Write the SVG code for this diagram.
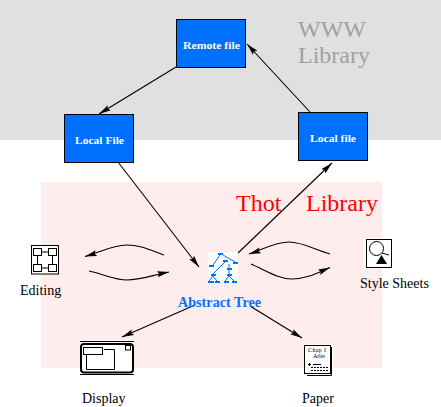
<svg xmlns="http://www.w3.org/2000/svg" width="441" height="407" viewBox="0 0 441 407">
<style>
text{font-family:"Liberation Serif","Times New Roman",serif}
.box{fill:#0070ff;stroke:#000;stroke-width:1}
.bl{fill:#fff;font-size:11px;font-weight:bold;text-anchor:start}
.big{font-size:24px}
.lab{font-size:14px;fill:#000}
.c{fill:none;stroke:#000;stroke-width:1.1;marker-end:url(#a)}
.ic{fill:none;stroke:#000;stroke-width:1}
.tr{stroke:#0070ff;stroke-width:1;fill:none}
.nd{fill:#0070ff}
</style>
<defs>
<marker id="a" markerUnits="userSpaceOnUse" markerWidth="13" markerHeight="8" refX="12" refY="3.500" orient="auto">
<path d="M0 0.500L12 3.500L0 6.500L2 3.500Z" fill="#000"/>
</marker>
</defs>
<rect x="0" y="0" width="441" height="140" fill="#e0e0e0"/>
<rect x="41" y="182" width="341" height="186" fill="#ffecec"/>
<g id="www-library">
<text class="big" x="298" y="37" fill="#a0a0a0">WWW</text>
<text class="big" x="298" y="63" fill="#a0a0a0">Library</text>
</g>
<g id="thot-library">
<text class="big" x="236" y="211" fill="#ff0000">Thot</text>
<text class="big" x="306" y="211" fill="#ff0000">Library</text>
</g>
<g id="connectors">
<path class="c" d="M176 67L99 114"/>
<path class="c" d="M310 112L247 44"/>
<path class="c" d="M118 162L199 267"/>
<path class="c" d="M238 253L332 163"/>
<path class="c" d="M195 305L122 337"/>
<path class="c" d="M250 306L302 338"/>
<path class="c" d="M164 255C150 250 140 245 127 245C113 245 100 252 85 256.500"/>
<path class="c" d="M89 271C103 274 115 280 127 280C140 280 153 275 169 272"/>
<path class="c" d="M330 254C315 250 303 242 289 242C275 242 262 250 249 254"/>
<path class="c" d="M251 264C265 270 278 279 292 279C306 279 317 273 330 267.500"/>
</g>
<g id="remote-file">
<rect class="box" x="176.500" y="19.500" width="69" height="48"/>
<text class="bl" x="183" y="49" textLength="57" lengthAdjust="spacingAndGlyphs">Remote file</text>
</g>
<g id="local-file-left">
<rect class="box" x="64.500" y="114.500" width="69" height="48"/>
<text class="bl" x="75" y="144" textLength="49" lengthAdjust="spacingAndGlyphs">Local File</text>
</g>
<g id="local-file-right">
<rect class="box" x="298.500" y="112.500" width="69" height="48"/>
<text class="bl" x="310" y="142" textLength="46" lengthAdjust="spacingAndGlyphs">Local file</text>
</g>
<g id="editing">
<rect x="31.500" y="245.500" width="27" height="28.500" fill="#fff" stroke="#000"/>
<path class="ic" d="M41.500 252H48.500M41.500 268H48.500M37.500 255.500V264.500M52.500 255.500V264.500"/>
<rect class="ic" x="33.500" y="248.500" width="8" height="7"/>
<rect class="ic" x="48.500" y="248.500" width="8" height="7"/>
<rect class="ic" x="33.500" y="264.500" width="8" height="7"/>
<rect class="ic" x="48.500" y="264.500" width="8" height="7"/>
<text class="lab" x="20" y="295">Editing</text>
</g>
<g id="style-sheets">
<rect x="364" y="238" width="28" height="31" fill="#fff"/>
<rect class="ic" x="366.500" y="239.500" width="25" height="28"/>
<circle class="ic" cx="376.500" cy="248.500" r="7"/>
<path class="ic" d="M382 253L389 255"/>
<path d="M381.500 255L387 264H376Z" fill="#000"/>
<text class="lab" x="360" y="288">Style Sheets</text>
</g>
<g id="abstract-tree">
<rect x="208" y="252" width="30" height="31" fill="#fff"/>
<path class="tr" d="M220 255L213 265M223 255L235 262M225 262L213 274M229 264V268M229 270V274M213 276L209 281M213 276L217 281M229 276L225 281M229 276L234 281"/>
<rect class="nd" x="218" y="253" width="5" height="2"/>
<rect class="nd" x="209" y="265" width="5" height="2"/>
<rect class="nd" x="233" y="262" width="5" height="2"/>
<rect class="nd" x="223" y="260" width="5" height="2"/>
<rect class="nd" x="227" y="268" width="5" height="2"/>
<rect class="nd" x="211" y="274" width="5" height="2"/>
<rect class="nd" x="227" y="274" width="5" height="2"/>
<rect class="nd" x="208" y="281" width="6" height="2"/>
<rect class="nd" x="215" y="281" width="5" height="2"/>
<rect class="nd" x="224" y="281" width="5" height="2"/>
<rect class="nd" x="232" y="281" width="5" height="2"/>
<text x="178" y="307" font-size="14" font-weight="bold" fill="#0070ff" textLength="83" lengthAdjust="spacing">Abstract Tree</text>
</g>
<g id="display">
<rect x="80" y="340" width="54" height="36" fill="#fff"/>
<path class="ic" d="M80 341.500H134M80 374.500H134"/>
<rect x="81" y="344" width="52" height="28.500" rx="3" fill="none" stroke="#000" stroke-width="2"/>
<path class="ic" d="M104 349.500H114.500V369.500H86.500V354.500"/>
<rect class="ic" x="83.500" y="347.500" width="19" height="7"/>
<rect class="ic" x="125.500" y="345.500" width="5" height="4.500"/>
<text class="lab" x="82" y="403">Display</text>
</g>
<g id="paper">
<rect x="304" y="344" width="29" height="32" fill="#fff"/>
<rect class="ic" x="304.500" y="345.500" width="26" height="28"/>
<path class="ic" d="M331.500 347V375.500H307"/>
<text x="308" y="351.500" font-size="6" font-family="Liberation Mono" fill="#000" textLength="18" lengthAdjust="spacing">Chap I</text>
<text x="313" y="357.500" font-size="6" font-family="Liberation Mono" fill="#000" textLength="12" lengthAdjust="spacing">Atlet</text>
<path d="M308 364.500H311M309.500 363V366M313 364.500H321" stroke="#000" stroke-width="1" fill="none"/>
<path d="M311 367.500H328M311 370.500H328" stroke="#000" stroke-width="1" stroke-dasharray="2 1" fill="none"/>
<text class="lab" x="302" y="403">Paper</text>
</g>
</svg>
